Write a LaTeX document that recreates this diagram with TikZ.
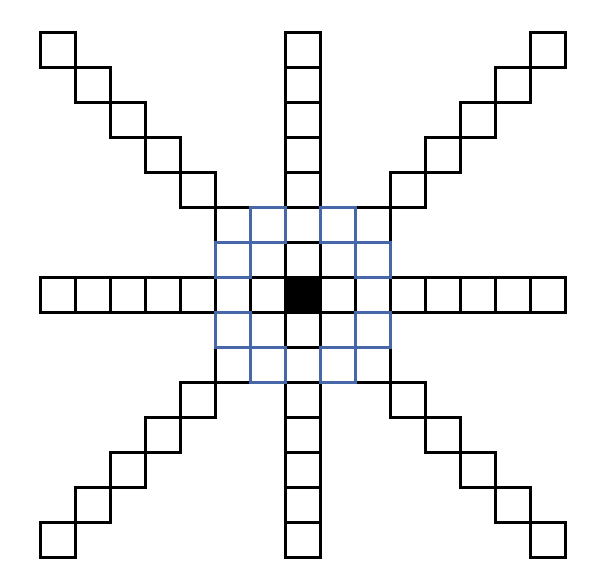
\documentclass[tikz,border=0pt]{standalone}
\definecolor{knightblue}{RGB}{70,104,168}
\tikzset{
  cellblack/.style={draw=black, line width=3.0pt},
  cellblue/.style={draw=knightblue, line width=3.0pt},
}
\begin{document}
\begin{tikzpicture}[x=1pt,y=-1pt]
\useasboundingbox (0,0) rectangle (599,582);
\def\cs{35}
% star cells: row, column, diagonals
\foreach \i in {0,...,14}{
  \draw[cellblack] ({40+\cs*\i},{32+\cs*7}) rectangle ++(\cs,\cs);
  \draw[cellblack] ({40+\cs*7},{32+\cs*\i}) rectangle ++(\cs,\cs);
  \draw[cellblack] ({40+\cs*\i},{32+\cs*\i}) rectangle ++(\cs,\cs);
  \draw[cellblack] ({40+\cs*\i},{32+\cs*(14-\i)}) rectangle ++(\cs,\cs);
}
% centre
\fill[black] ({40+\cs*7},{32+\cs*7}) rectangle ++(\cs,\cs);
\draw[cellblack] ({40+\cs*7},{32+\cs*7}) rectangle ++(\cs,\cs);
% knight cells
\foreach \c/\r in {6/5,8/5,5/6,9/6,5/8,9/8,6/9,8/9}{
  \draw[cellblue] ({40+\cs*\c},{32+\cs*\r}) rectangle ++(\cs,\cs);
}
\end{tikzpicture}
\end{document}
